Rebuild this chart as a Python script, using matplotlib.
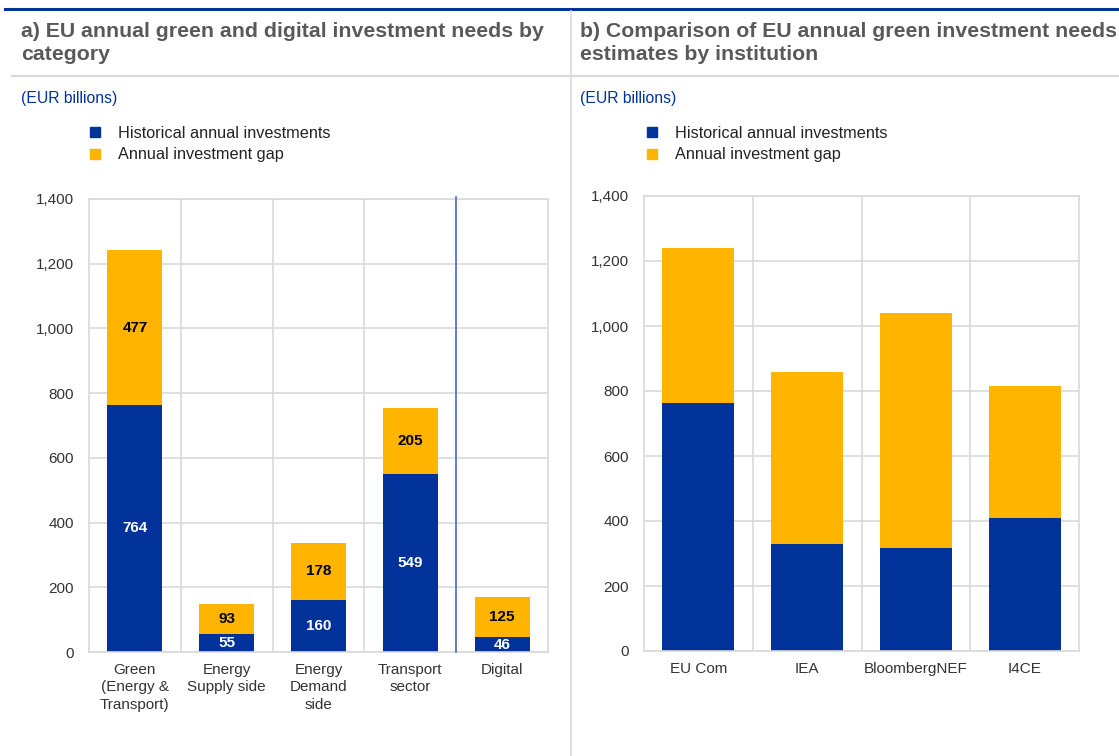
import matplotlib
matplotlib.use("Agg")
import matplotlib.pyplot as plt
from matplotlib.patches import Patch
from matplotlib.lines import Line2D
from matplotlib.ticker import FuncFormatter, FixedLocator

plt.rcParams['font.family'] = ['Liberation Sans', 'DejaVu Sans']

# panel a data
cats_a = ['Green\n(Energy &\nTransport)', 'Energy\nSupply side', 'Energy\nDemand\nside', 'Transport\nsector', 'Digital']
hist_a = [764, 55, 160, 549, 46]
gap_a = [477, 93, 178, 205, 125]

# panel b data
cats_b = ['EU Com', 'IEA', 'BloombergNEF', 'I4CE']
hist_b = [764, 330, 317, 408]
gap_b = [477, 530, 722, 406]

BLUE = '#003299'
YELLOW = '#FFB400'
GRID = '#d9d9d9'
TITLE = '#595959'

W, H = 1119, 756
fig = plt.figure(figsize=(W / 100, H / 100), dpi=100)


def box(l, t, r, b):
    return [l / W, 1 - b / H, (r - l) / W, (b - t) / H]


def style(ax, n):
    ax.set_xlim(-0.5, n - 0.5)
    ax.set_ylim(0, 1400)
    ax.set_yticks(range(0, 1401, 200))
    ax.yaxis.set_major_formatter(FuncFormatter(lambda v, p: f'{int(v):,}'))
    ax.xaxis.set_minor_locator(FixedLocator([i + 0.5 for i in range(n - 1)]))
    ax.grid(axis='y', which='major', color=GRID, lw=1.2)
    ax.grid(axis='x', which='minor', color=GRID, lw=1.2)
    ax.set_axisbelow(True)
    for s in ax.spines.values():
        s.set_color(GRID)
        s.set_linewidth(1.2)
    ax.tick_params(which='both', length=0)
    ax.tick_params(axis='y', labelsize=11, colors='#333333', pad=11)
    ax.tick_params(axis='x', labelsize=11, colors='#333333', pad=8)


# panel a
ax1 = fig.add_axes(box(89, 199, 548, 652))
x = range(len(cats_a))
ax1.bar(x, hist_a, width=0.6, color=BLUE, zorder=2)
ax1.bar(x, gap_a, width=0.6, bottom=hist_a, color=YELLOW, zorder=2)
style(ax1, len(cats_a))
ax1.set_xticks(list(x))
ax1.set_xticklabels(cats_a, linespacing=1.3, va='top')
ax1.axvline(3.5, ymin=0, ymax=1.005, color='#4a6fc4', lw=1.2, zorder=3, clip_on=False)
for i in x:
    ax1.text(i, hist_a[i] / 2, str(hist_a[i]), ha='center', va='center',
             color='white', fontsize=11, fontweight='bold', zorder=4)
    ax1.text(i, hist_a[i] + gap_a[i] / 2, str(gap_a[i]), ha='center', va='center',
             color='black', fontsize=11, fontweight='bold', zorder=4)

# panel b
ax2 = fig.add_axes(box(644, 196, 1079, 651))
xb = range(len(cats_b))
ax2.bar(xb, hist_b, width=0.66, color=BLUE, zorder=2)
ax2.bar(xb, gap_b, width=0.66, bottom=hist_b, color=YELLOW, zorder=2)
style(ax2, len(cats_b))
ax2.set_xticks(list(xb))
ax2.set_xticklabels(cats_b)

# frame lines
fig.add_artist(Line2D([5 / W, 1], [1 - 9 / H] * 2, color=BLUE, lw=2.2))
fig.add_artist(Line2D([12 / W, 1], [1 - 76 / H] * 2, color=GRID, lw=1.6))
fig.add_artist(Line2D([571 / W] * 2, [0, 1 - 11 / H], color=GRID, lw=1.2))

# titles
fig.text(21 / W, 1 - 22 / H, 'a) EU annual green and digital investment needs by\ncategory',
         ha='left', va='top', fontsize=15.3, fontweight='bold', color=TITLE, linespacing=1.27)
fig.text(580 / W, 1 - 22 / H, 'b) Comparison of EU annual green investment needs\nestimates by institution',
         ha='left', va='top', fontsize=15.3, fontweight='bold', color=TITLE, linespacing=1.27)
fig.text(21 / W, 1 - 98 / H, '(EUR billions)', ha='left', va='center', fontsize=11.3, color=BLUE)
fig.text(580 / W, 1 - 98 / H, '(EUR billions)', ha='left', va='center', fontsize=11.3, color=BLUE)

handles = [Patch(color=BLUE, label='Historical annual investments'),
           Patch(color=YELLOW, label='Annual investment gap')]
for lx in (90, 647):
    fig.legend(handles=handles, loc='upper left', bbox_to_anchor=(lx / W, 1 - 126 / H),
               frameon=False, fontsize=11.7, handlelength=0.6, handleheight=0.6,
               handletextpad=1.1, labelspacing=0.4, borderaxespad=0, borderpad=0,
               labelcolor='#222222')

fig.savefig('out.png', dpi=100)
